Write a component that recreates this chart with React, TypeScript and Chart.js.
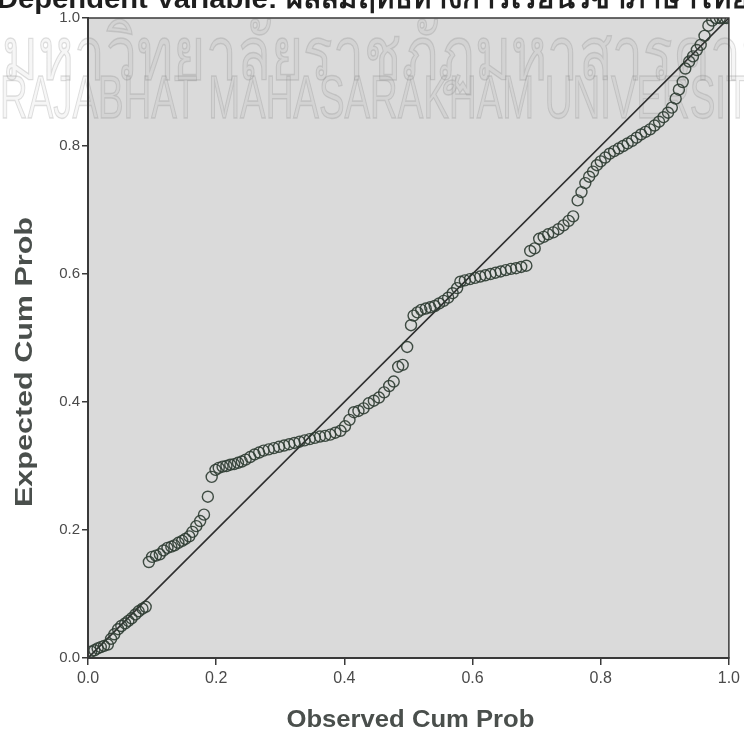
import React, { useEffect, useRef } from "react";
import { Chart, registerables } from "chart.js";

Chart.register(...registerables);

const titleText = "Dependent Variable: ผลสัมฤทธิ์ทางการเรียนวิชาภาษาไทย";
const watermarkThai = "มหาวิทยาลัยราชภัฏมหาสารคาม";
const watermarkEng = "RAJABHAT MAHASARAKHAM UNIVERSITY";
const xAxisTitle = "Observed Cum Prob";
const yAxisTitle = "Expected Cum Prob";
const tickValues = [0, 0.2, 0.4, 0.6, 0.8, 1.0];

const observedCumProb = [
  0.005, 0.010, 0.015, 0.020, 0.025, 0.031, 0.036, 0.041, 0.047, 0.052, 0.058, 0.063, 0.068, 0.074, 0.079, 0.085, 0.090,
  0.095, 0.100, 0.106, 0.112, 0.118, 0.124, 0.130, 0.135, 0.141, 0.147, 0.152, 0.158, 0.163, 0.169, 0.175, 0.181, 0.187, 0.193,
  0.199, 0.204, 0.210, 0.216, 0.222, 0.228, 0.234, 0.240, 0.246, 0.253, 0.260, 0.267, 0.274, 0.282, 0.290, 0.298, 0.306, 0.314,
  0.322, 0.330, 0.338, 0.346, 0.354, 0.362, 0.370, 0.378, 0.386, 0.394, 0.401, 0.408, 0.415,
  0.422, 0.430, 0.438, 0.446, 0.454, 0.462, 0.470, 0.477, 0.484, 0.491, 0.498, 0.504, 0.508, 0.514, 0.520, 0.527, 0.534, 0.541,
  0.548, 0.555, 0.562, 0.569, 0.576, 0.581,
  0.588, 0.596, 0.604, 0.612, 0.620, 0.628, 0.636, 0.644, 0.652, 0.660, 0.668, 0.676, 0.684,
  0.690, 0.697, 0.704, 0.711, 0.718, 0.726, 0.734, 0.742, 0.750, 0.757, 0.764, 0.770, 0.776, 0.782, 0.788, 0.794, 0.800, 0.807,
  0.814, 0.821, 0.828, 0.835, 0.842, 0.849, 0.856, 0.863, 0.870, 0.877, 0.884, 0.891, 0.898, 0.905, 0.911, 0.917, 0.922, 0.928,
  0.932, 0.938, 0.944, 0.950, 0.956, 0.962, 0.968, 0.974, 0.980, 0.986, 0.992, 0.997,
];

const expectedCumProb = [
  0.010, 0.012, 0.015, 0.017, 0.019, 0.021, 0.030, 0.037, 0.045, 0.050, 0.054, 0.058, 0.062, 0.068, 0.073, 0.077, 0.080,
  0.150, 0.158, 0.160, 0.162, 0.168, 0.172, 0.174, 0.176, 0.180, 0.183, 0.186, 0.190, 0.197, 0.206, 0.214, 0.224, 0.252, 0.283,
  0.294, 0.297, 0.299, 0.300, 0.302, 0.303, 0.305, 0.307, 0.310, 0.314, 0.318, 0.321, 0.324, 0.326, 0.328, 0.330, 0.332, 0.334,
  0.336, 0.338, 0.340, 0.342, 0.344, 0.346, 0.347, 0.349, 0.352, 0.355, 0.362, 0.372, 0.384,
  0.386, 0.390, 0.398, 0.402, 0.407, 0.415, 0.425, 0.432, 0.455, 0.458, 0.486, 0.520, 0.535, 0.540, 0.544, 0.546, 0.548, 0.550,
  0.554, 0.558, 0.563, 0.570, 0.578, 0.588,
  0.590, 0.592, 0.594, 0.596, 0.598, 0.600, 0.602, 0.604, 0.606, 0.608, 0.609, 0.611, 0.613,
  0.636, 0.640, 0.655, 0.658, 0.662, 0.665, 0.670, 0.676, 0.683, 0.690, 0.715, 0.728, 0.742, 0.752, 0.760, 0.770, 0.776, 0.782,
  0.788, 0.792, 0.796, 0.800, 0.804, 0.808, 0.813, 0.818, 0.822, 0.826, 0.832, 0.838, 0.845, 0.852, 0.860, 0.874, 0.888, 0.900,
  0.921, 0.932, 0.940, 0.950, 0.958, 0.972, 0.988, 0.996, 1.0, 1.0, 1.0, 1.0,
];

const referenceLine = [
  { x: 0, y: 0 },
  { x: 1, y: 1 },
];

function fittedText(ctx: any, text: string, font: string, x: number, y: number, width: number, fill: string, stroke?: string) {
  ctx.save();
  ctx.font = font;
  const w = ctx.measureText(text).width;
  ctx.translate(x, y);
  ctx.scale(width / w, 1);
  ctx.fillStyle = fill;
  ctx.fillText(text, 0, 0);
  if (stroke) {
    ctx.strokeStyle = stroke;
    ctx.lineWidth = 1.4;
    ctx.strokeText(text, 0, 0);
  }
  ctx.restore();
}

const decorPlugin = {
  id: "decor",
  beforeDraw(chart: any) {
    const { ctx, chartArea } = chart;
    ctx.save();
    ctx.fillStyle = "#ffffff";
    ctx.fillRect(0, 0, chart.width, chart.height);
    ctx.fillStyle = "#dadada";
    ctx.fillRect(chartArea.left, chartArea.top, chartArea.right - chartArea.left, chartArea.bottom - chartArea.top);
    ctx.restore();
  },
  beforeDatasetsDraw(chart: any) {
    const { ctx } = chart;
    ctx.save();
    ctx.textBaseline = "alphabetic";
    ctx.textAlign = "left";
    fittedText(ctx, watermarkThai, "76px 'Noto Sans', sans-serif", 2, 80, 775, "rgba(140,140,140,0.08)", "rgba(120,120,120,0.22)");
    fittedText(
      ctx,
      watermarkEng,
      "62px 'Liberation Sans Narrow', 'Liberation Sans', sans-serif",
      0,
      118,
      775,
      "rgba(140,140,140,0.08)",
      "rgba(120,120,120,0.22)"
    );
    ctx.restore();
  },
  afterDraw(chart: any) {
    const { ctx, chartArea } = chart;
    ctx.save();
    ctx.strokeStyle = "#3a3a3a";
    ctx.lineWidth = 1.5;
    ctx.strokeRect(chartArea.left, chartArea.top, chartArea.right - chartArea.left, chartArea.bottom - chartArea.top);

    ctx.textAlign = "left";
    ctx.textBaseline = "alphabetic";
    fittedText(ctx, titleText, "bold 27px 'Liberation Sans', Arial, 'Noto Sans', sans-serif", -3, 8, 752, "#1e1e1e");

    // axis titles
    const cx = (chartArea.left + chartArea.right) / 2;
    ctx.font = "bold 24px 'Liberation Sans', Arial, sans-serif";
    ctx.fillStyle = "#4a4f4c";
    ctx.textBaseline = "alphabetic";
    let w = ctx.measureText(xAxisTitle).width;
    ctx.save();
    ctx.translate(cx + 2, 727);
    ctx.scale(248 / w, 1);
    ctx.textAlign = "center";
    ctx.fillText(xAxisTitle, 0, 0);
    ctx.restore();

    w = ctx.measureText(yAxisTitle).width;
    ctx.save();
    ctx.translate(32, 362);
    ctx.rotate(-Math.PI / 2);
    ctx.scale(290 / w, 1);
    ctx.textAlign = "center";
    ctx.fillText(yAxisTitle, 0, 0);
    ctx.restore();
    ctx.restore();
  },
};

export default function App() {
  const canvasRef = useRef<HTMLCanvasElement | null>(null);

  useEffect(() => {
    if (!canvasRef.current) return;
    const points = observedCumProb.map((x, i) => ({ x, y: expectedCumProb[i] }));
    const chart = new Chart(canvasRef.current, {
      type: "scatter",
      data: {
        datasets: [
          {
            type: "line",
            data: referenceLine,
            borderColor: "#2e2e2e",
            borderWidth: 1.6,
            pointRadius: 0,
            fill: false,
            order: 2,
          } as any,
          {
            data: points,
            pointRadius: 5.5,
            pointBorderWidth: 1.4,
            borderColor: "rgba(45,60,50,0.9)",
            backgroundColor: "rgba(0,0,0,0)",
            pointBackgroundColor: "rgba(0,0,0,0)",
            pointBorderColor: "rgba(45,60,50,0.9)",
            order: 1,
          } as any,
        ],
      },
      options: {
        animation: false,
        responsive: false,
        maintainAspectRatio: false,
        layout: { padding: { left: 0, right: 15, top: 18, bottom: 0 } },
        plugins: {
          legend: { display: false },
          tooltip: { enabled: false },
          title: { display: false },
        },
        scales: {
          x: {
            type: "linear",
            min: 0,
            max: 1,
            afterFit(scale: any) {
              scale.height = 74;
            },
            afterBuildTicks(scale: any) {
              scale.ticks = tickValues.map((v) => ({ value: v }));
            },
            grid: {
              drawOnChartArea: false,
              drawTicks: true,
              tickLength: 7,
              color: "#3a3a3a",
              lineWidth: 1.5,
            },
            border: { display: true, color: "#3a3a3a", width: 2 },
            ticks: {
              padding: 4,
              color: "#4a4a4a",
              font: { family: "'Liberation Sans', Arial, sans-serif", size: 16 },
              callback: (v: any) => Number(v).toFixed(1),
              maxRotation: 0,
            },
            title: { display: false },
          },
          y: {
            type: "linear",
            min: 0,
            max: 1,
            afterFit(scale: any) {
              scale.width = 88;
            },
            afterBuildTicks(scale: any) {
              scale.ticks = tickValues.map((v) => ({ value: v }));
            },
            grid: {
              drawOnChartArea: false,
              drawTicks: true,
              tickLength: 6,
              color: "#3a3a3a",
              lineWidth: 1.5,
            },
            border: { display: true, color: "#3a3a3a", width: 2 },
            ticks: {
              padding: 2,
              color: "#4a4a4a",
              font: { family: "'Liberation Sans', Arial, sans-serif", size: 15 },
              callback: (v: any) => Number(v).toFixed(1),
            },
            title: { display: false },
          },
        },
      },
      plugins: [decorPlugin],
    });
    return () => chart.destroy();
  }, []);

  return (
    <div style={{ position: "absolute", left: 0, top: 0, width: 744, height: 732 }}>
      <canvas ref={canvasRef} width={744} height={732} style={{ width: 744, height: 732, display: "block" }} />
    </div>
  );
}
